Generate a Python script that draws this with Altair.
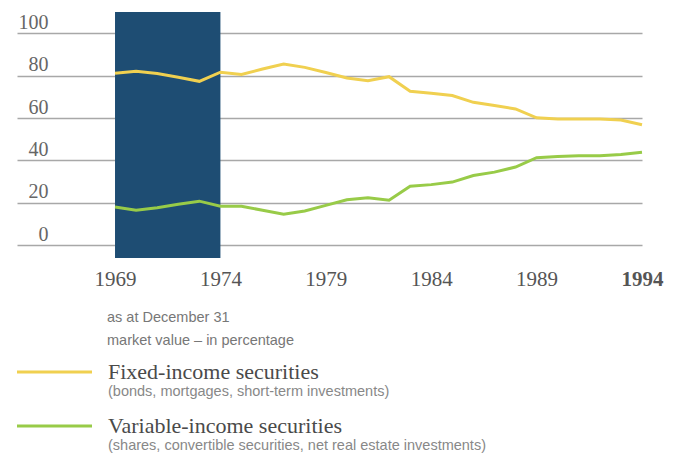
import altair as alt
import pandas as pd

years = list(range(1969, 1995))
fixed_income = [81.1, 82.0, 81.0, 79.2, 77.3, 81.6, 80.5, 83.1, 85.5, 83.9, 81.5,
                78.9, 77.6, 79.5, 72.6, 71.7, 70.6, 67.4, 65.9, 64.3, 60.1, 59.5,
                59.6, 59.6, 59.1, 56.8]
variable_income = [18.0, 16.5, 17.7, 19.3, 20.8, 18.4, 18.4, 16.5, 14.6, 16.2, 18.8,
                   21.5, 22.4, 21.2, 27.8, 28.6, 29.8, 32.9, 34.5, 36.9, 41.3, 41.9,
                   42.2, 42.2, 42.8, 43.9]
series_names = ["Fixed-income securities", "Variable-income securities"]
series_notes = ["(bonds, mortgages, short-term investments)",
                "(shares, convertible securities, net real estate investments)"]
series_colors = ["#f0d050", "#98cb48"]
shade_start = [1969]
shade_end = [1974]
y_ticks = [0, 20, 40, 60, 80, 100]
x_ticks = [1969, 1974, 1979, 1984, 1989, 1994]
notes_top = ["as at December 31", "market value \u2013 in percentage"]

Y_MIN, Y_MAX = -6, 110
X_MIN, X_MAX = 1964.35, 1994

df = pd.DataFrame({
    "year": years * 2,
    "value": fixed_income + variable_income,
    "series": [series_names[0]] * len(years) + [series_names[1]] * len(years),
})
shade = pd.DataFrame({"start": shade_start, "end": shade_end,
                      "lo": [Y_MIN], "hi": [Y_MAX]})

W, H = 625, 246
xs = alt.Scale(domain=[X_MIN, X_MAX], nice=False, zero=False)
ys = alt.Scale(domain=[Y_MIN, Y_MAX], nice=False, zero=False)

serif = "Liberation Serif"
sans = "Liberation Sans"

rect = alt.Chart(shade).mark_rect(color="#1e4d73").encode(
    x=alt.X("start:Q", scale=xs, axis=alt.Axis(
        values=x_ticks, format="d", title=None, grid=False, ticks=False, domain=False,
        labelFont=serif, labelFontSize=21, labelColor="#555", labelPadding=10,
        labelFontWeight=alt.expr("datum.value == 1994 ? 'bold' : 'normal'"),
        labelFlush=False)),
    x2="end:Q",
    y=alt.Y("lo:Q", scale=ys, axis=alt.Axis(
        values=y_ticks, title=None, grid=True, gridColor="#a8a8a8", gridWidth=1.3,
        ticks=False, domain=False, labelFont=serif, labelFontSize=20,
        labelColor="#666", labelPadding=-31, labelAlign="right",
        labelBaseline="alphabetic", labelOffset=-5)),
    y2="hi:Q",
)

lines = alt.Chart(df).mark_line(strokeWidth=3).encode(
    x=alt.X("year:Q", scale=xs),
    y=alt.Y("value:Q", scale=ys),
    color=alt.Color("series:N", scale=alt.Scale(domain=series_names, range=series_colors),
                    legend=None),
)

layers = [rect, lines]

# header notes under the chart
for i, t in enumerate(notes_top):
    layers.append(alt.Chart(pd.DataFrame({"t": [t]})).mark_text(
        align="left", baseline="middle", font=sans, fontSize=14.5, color="#777"
    ).encode(text="t:N", x=alt.value(90), y=alt.value(306 + 23 * i)))

# legend
row_y = [360, 414]
for i, (name, note, col) in enumerate(zip(series_names, series_notes, series_colors)):
    yy = row_y[i]
    layers.append(alt.Chart(pd.DataFrame({"t": [name]})).mark_rule(
        color=col, strokeWidth=3).encode(x=alt.value(0), x2=alt.value(75), y=alt.value(yy)))
    layers.append(alt.Chart(pd.DataFrame({"t": [name]})).mark_text(
        align="left", baseline="middle", font=serif, fontSize=22, color="#4a4a4a"
    ).encode(text="t:N", x=alt.value(91), y=alt.value(yy)))
    layers.append(alt.Chart(pd.DataFrame({"t": [note]})).mark_text(
        align="left", baseline="middle", font=sans, fontSize=14.5, color="#888"
    ).encode(text="t:N", x=alt.value(91), y=alt.value(yy + 20)))

chart = alt.layer(*layers).properties(
    width=W, height=H,
    background="white",
    autosize=alt.AutoSizeParams(type="none"),
    padding={"left": 9, "top": 4, "right": 30, "bottom": 197},
).configure_view(strokeWidth=0, stroke="transparent")

chart.save("out.html", embed_options={"renderer": "svg", "actions": False})
